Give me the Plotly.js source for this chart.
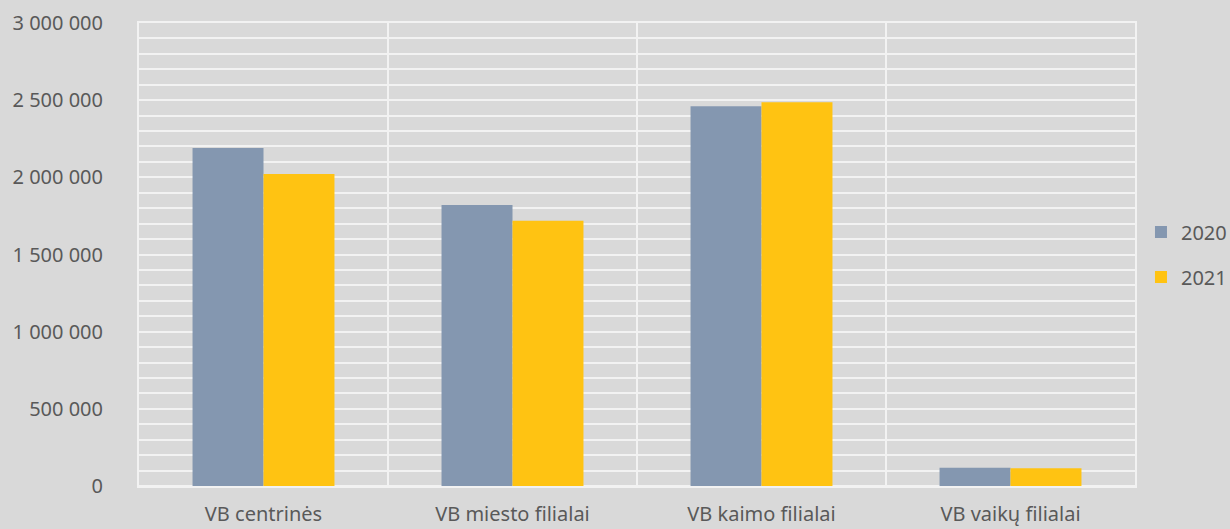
<!DOCTYPE html>
<html>
<head>
<meta charset="utf-8">
<script src="https://cdn.plot.ly/plotly-3.0.1.min.js"></script>
<style>html,body{margin:0;padding:0;background:#d9d9d9;}#chart{width:1230px;height:529px;}</style>
</head>
<body>
<div id="chart"></div>
<script>
const categories = ["VB centrinės", "VB miesto filialai", "VB kaimo filialai", "VB vaikų filialai"];
const seriesNames = ["2020", "2021"];
const values2020 = [2190000, 1820000, 2461000, 119000];
const values2021 = [2021000, 1719000, 2487000, 115000];
const yTicks = [0, 500000, 1000000, 1500000, 2000000, 2500000, 3000000];

const traces = [
  {type: "bar", name: seriesNames[0], legendgroup: "a", x: categories, y: values2020, marker: {color: "#8497b0"}},
  {type: "bar", name: seriesNames[1], legendgroup: "b", x: categories, y: values2021, marker: {color: "#ffc312"}}
];

const font = {family: "Noto Sans, Open Sans, sans-serif", color: "#595959", size: 20};
const grid = "#f2f2f2";

const layout = {
  width: 1230, height: 529,
  paper_bgcolor: "#d9d9d9", plot_bgcolor: "#d9d9d9",
  margin: {l: 139, r: 95, t: 23, b: 43, autoexpand: false},
  separators: ", ",
  barmode: "group",
  bargap: 0.43,
  bargroupgap: 0,
  font: font,
  showlegend: true,
  legend: {x: 1.006, y: 0.5, yanchor: "middle", xanchor: "left", traceorder: "grouped",
           font: {size: 20, color: "#595959"}, tracegroupgap: 16, itemwidth: 30},
  xaxis: {
    type: "category",
    tickson: "boundaries",
    showgrid: true, gridcolor: grid, gridwidth: 2,
    showline: true, mirror: true, linecolor: grid, linewidth: 2,
    ticks: "", ticklen: 0,
    zeroline: false,
    tickfont: {size: 20, color: "#595959"},
    ticklabelstandoff: 9,
    range: [-0.5, 3.5]
  },
  yaxis: {
    range: [0, 3000000],
    tickvals: yTicks,
    tickformat: ",d",
    showgrid: true, gridcolor: grid, gridwidth: 2,
    minor: {dtick: 100000, showgrid: true, gridcolor: grid, gridwidth: 2, tick0: 0},
    showline: true, mirror: true, linecolor: grid, linewidth: 2,
    zeroline: true, zerolinecolor: grid, zerolinewidth: 2,
    ticks: "",
    tickfont: {size: 20, color: "#595959"},
    ticklabelstandoff: 30
  }
};

Plotly.newPlot("chart", traces, layout, {displayModeBar: false, staticPlot: true});
</script>
</body>
</html>
